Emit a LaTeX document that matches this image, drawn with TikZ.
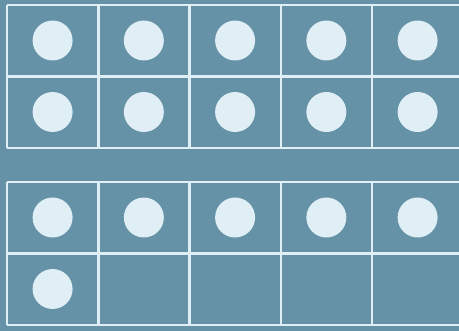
\documentclass[tikz,border=0pt]{standalone}
\definecolor{framebg}{RGB}{101,146,166}
\definecolor{framelight}{RGB}{224,238,245}
\tikzset{
  frameline/.style={framelight, line width=2.5pt},
  counter/.style={circle, fill=framelight, minimum size=40pt, inner sep=0pt}
}
\begin{document}
\begin{tikzpicture}[x=1pt, y=-1pt]
  % Background
  \useasboundingbox[fill=framebg] (0,0) rectangle (459,331);
  \clip (0,0) rectangle (459,331);
  % Two ten frames (top edges at 5 and 182)
  \foreach \f/\top in {1/5, 2/182} {
    \foreach \r in {0,1,2}
      \draw[frameline] (7,\top+\r*71.5) -- (470,\top+\r*71.5);
    \foreach \c in {0,...,5}
      \draw[frameline] (7+\c*91.25,\top) -- (7+\c*91.25,\top+143);
  }
  % Counters: 10 in the first frame
  \foreach \r in {0,1}
    \foreach \c in {0,...,4}
      \node[counter] (a-\r-\c) at (52.6+\c*91.25, 40.5+\r*71.5) {};
  % Counters: 6 in the second frame
  \foreach \c in {0,...,4}
    \node[counter] (b-0-\c) at (52.6+\c*91.25, 217.5) {};
  \node[counter] (b-1-0) at (52.6, 289) {};
\end{tikzpicture}
\end{document}
